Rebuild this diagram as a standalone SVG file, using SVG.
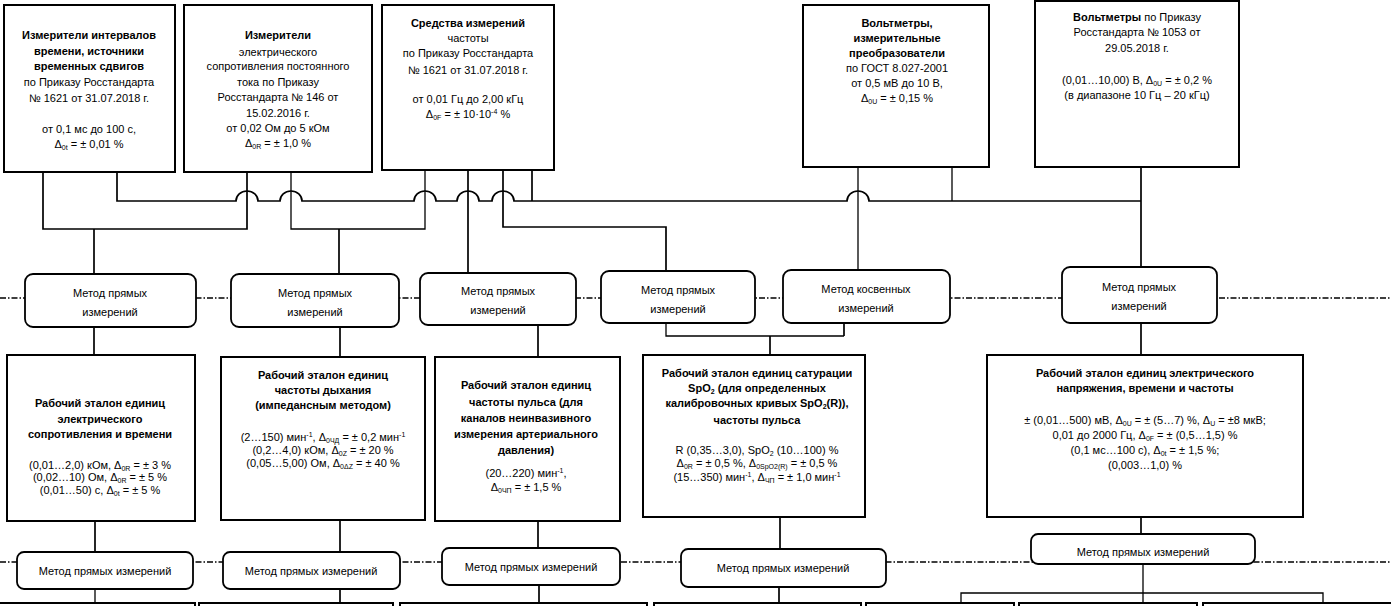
<svg xmlns="http://www.w3.org/2000/svg" width="1391" height="606" viewBox="0 0 1391 606">
<style>
  text { font-family: "Liberation Sans", Arial, sans-serif; font-size: 11px; fill: #000; text-anchor: middle; }
  .b { font-weight: bold; }
  .s { font-size: 7px; }
  .box { fill: #fff; stroke: #000; stroke-width: 2; }
  .m { fill: #fff; stroke: #000; stroke-width: 1.8; }
  .ln { fill: none; stroke: #000; stroke-width: 1.7; }
  .th { fill: none; stroke: #000; stroke-width: 1.3; }
  .dd { fill: none; stroke: #000; stroke-width: 1.3; stroke-dasharray: 6 2 1.5 2; }
</style>
<rect width="1391" height="606" fill="#fff"/>

<g id="guides">
  <line class="dd" x1="0" y1="298" x2="1391" y2="298"/>
  <line class="dd" x1="0" y1="562" x2="1391" y2="562"/>
</g>

<g id="connectors">
  <path class="ln" d="M43,172 V229 H247 V172"/>
  <line class="ln" x1="94" y1="229" x2="94" y2="274"/>
  <path class="th" d="M291,172 V229 H425 V170"/>
  <line class="ln" x1="339" y1="229" x2="339" y2="274"/>
  <line class="ln" x1="468" y1="170" x2="468" y2="273"/>
  <path class="ln" d="M503,170 V227 H666 V271"/>
  <line class="ln" x1="532" y1="170" x2="532" y2="201"/>
  <path class="ln" d="M117,172 V201 H236 A11,10 0 0 1 258,201 H280 A11,10 0 0 1 302,201 H414 A11,10 0 0 1 436,201 H457 A11,10 0 0 1 479,201 H492 A11,10 0 0 1 514,201 H847 A11,10 0 0 1 869,201 H1141"/>
  <line class="th" x1="858" y1="167" x2="858" y2="270"/>
  <line class="th" x1="952" y1="167" x2="952" y2="201"/>
  <line class="ln" x1="1141" y1="167" x2="1141" y2="267"/>

  <line class="ln" x1="94" y1="327" x2="94" y2="355"/>
  <line class="ln" x1="340" y1="327" x2="340" y2="357"/>
  <line class="ln" x1="538" y1="325" x2="538" y2="357"/>
  <path class="th" d="M666,323 V336 H844"/>
  <line class="ln" x1="844" y1="323" x2="844" y2="336"/>
  <line class="ln" x1="770" y1="336" x2="770" y2="355"/>
  <line class="ln" x1="1141" y1="323" x2="1141" y2="355"/>

  <line class="ln" x1="95" y1="521" x2="95" y2="552"/>
  <line class="ln" x1="340" y1="520" x2="340" y2="552"/>
  <line class="ln" x1="538" y1="521" x2="538" y2="548"/>
  <line class="ln" x1="780" y1="517" x2="780" y2="549"/>
  <line class="ln" x1="1141" y1="517" x2="1141" y2="534"/>

  <line class="th" x1="95" y1="589" x2="95" y2="603"/>
  <line class="ln" x1="340" y1="589" x2="340" y2="603"/>
  <line class="ln" x1="539" y1="585" x2="539" y2="603"/>
  <line class="ln" x1="779" y1="587" x2="779" y2="603"/>
  <line class="th" x1="1143" y1="564" x2="1143" y2="603"/>
  <path class="th" d="M961,603 V593 H1323 V603"/>
</g>

<g id="top1">
  <rect class="box" x="4" y="5" width="171" height="167"/>
  <text x="89" y="39" class="b">Измерители интервалов</text>
  <text x="89" y="55" class="b">времени, источники</text>
  <text x="89" y="70" class="b">временных сдвигов</text>
  <text x="89" y="86">по Приказу Росстандарта</text>
  <text x="89" y="102">№ 1621 от 31.07.2018 г.</text>
  <text x="89" y="133">от 0,1 мс до 100 с,</text>
  <text x="89" y="148">Δ<tspan class="s" dy="2">0t</tspan><tspan dy="-2"> = ± 0,01 %</tspan></text>
</g>

<g id="top2">
  <rect class="box" x="184" y="5" width="188" height="167"/>
  <text x="278" y="39" class="b">Измерители</text>
  <text x="278" y="56">электрического</text>
  <text x="278" y="70">сопротивления постоянного</text>
  <text x="278" y="86">тока по Приказу</text>
  <text x="278" y="101">Росстандарта № 146 от</text>
  <text x="278" y="117">15.02.2016 г.</text>
  <text x="278" y="132">от 0,02 Ом до 5 кОм</text>
  <text x="278" y="147">Δ<tspan class="s" dy="2">0R</tspan><tspan dy="-2"> = ± 1,0 %</tspan></text>
</g>

<g id="top3">
  <rect class="box" x="382" y="5" width="172" height="165"/>
  <text x="468" y="27" class="b">Средства измерений</text>
  <text x="468" y="42">частоты</text>
  <text x="468" y="57">по Приказу Росстандарта</text>
  <text x="468" y="74">№ 1621 от 31.07.2018 г.</text>
  <text x="468" y="103">от 0,01 Гц до 2,00 кГц</text>
  <text x="468" y="118">Δ<tspan class="s" dy="2">0F</tspan><tspan dy="-2"> = ± 10·10</tspan><tspan class="s" dy="-4">-4</tspan><tspan dy="4"> %</tspan></text>
</g>

<g id="top4">
  <rect class="box" x="803" y="5" width="186" height="162"/>
  <text x="897" y="27" class="b">Вольтметры,</text>
  <text x="897" y="42" class="b">измерительные</text>
  <text x="897" y="57" class="b">преобразователи</text>
  <text x="897" y="72">по ГОСТ 8.027-2001</text>
  <text x="897" y="87">от 0,5 мВ до 10 В,</text>
  <text x="897" y="102">Δ<tspan class="s" dy="2">0U</tspan><tspan dy="-2"> = ± 0,15 %</tspan></text>
</g>

<g id="top5">
  <rect class="box" x="1035" y="1" width="204" height="166"/>
  <text x="1137" y="21"><tspan class="b">Вольтметры</tspan> по Приказу</text>
  <text x="1137" y="36">Росстандарта  № 1053 от</text>
  <text x="1137" y="52">29.05.2018 г.</text>
  <text x="1137" y="84">(0,01…10,00) В, Δ<tspan class="s" dy="2">0U</tspan><tspan dy="-2">  = ± 0,2 %</tspan></text>
  <text x="1137" y="99">(в диапазоне 10 Гц – 20 кГц)</text>
</g>

<g id="method1">
  <rect class="m" x="25" y="274" width="171" height="53" rx="8"/>
  <text x="110" y="297">Метод прямых</text>
  <text x="110" y="316">измерений</text>
</g>
<g id="method2">
  <rect class="m" x="231" y="274" width="168" height="53" rx="8"/>
  <text x="315" y="297">Метод прямых</text>
  <text x="315" y="316">измерений</text>
</g>
<g id="method3">
  <rect class="m" x="420" y="273" width="156" height="52" rx="8"/>
  <text x="498" y="295">Метод прямых</text>
  <text x="498" y="314">измерений</text>
</g>
<g id="method4">
  <rect class="m" x="601" y="271" width="154" height="52" rx="8"/>
  <text x="678" y="294">Метод прямых</text>
  <text x="678" y="313">измерений</text>
</g>
<g id="method5">
  <rect class="m" x="783" y="270" width="167" height="53" rx="8"/>
  <text x="866" y="293">Метод косвенных</text>
  <text x="866" y="312">измерений</text>
</g>
<g id="method6">
  <rect class="m" x="1062" y="267" width="155" height="56" rx="8"/>
  <text x="1139" y="291">Метод прямых</text>
  <text x="1139" y="310">измерений</text>
</g>

<g id="std1">
  <rect class="box" x="7" y="355" width="188" height="166"/>
  <text x="100" y="407" class="b">Рабочий эталон единиц</text>
  <text x="100" y="423" class="b">электрического</text>
  <text x="100" y="438" class="b">сопротивления и времени</text>
  <text x="100" y="469">(0,01…2,0) кОм, Δ<tspan class="s" dy="2">0R</tspan><tspan dy="-2"> = ± 3 %</tspan></text>
  <text x="100" y="481">(0,02…10) Ом, Δ<tspan class="s" dy="2">0R</tspan><tspan dy="-2"> = ± 5 %</tspan></text>
  <text x="100" y="494">(0,01…50) с, Δ<tspan class="s" dy="2">0t</tspan><tspan dy="-2"> = ± 5 %</tspan></text>
</g>

<g id="std2">
  <rect class="box" x="221" y="357" width="204" height="163"/>
  <text x="323" y="379" class="b">Рабочий эталон единиц</text>
  <text x="323" y="394" class="b">частоты дыхания</text>
  <text x="323" y="409" class="b">(импедансным методом)</text>
  <text x="323" y="441">(2…150) мин<tspan class="s" dy="-4">-1</tspan><tspan dy="4">, Δ</tspan><tspan class="s" dy="2">0ЧД</tspan><tspan dy="-2"> = ± 0,2 мин</tspan><tspan class="s" dy="-4">-1</tspan></text>
  <text x="323" y="454">(0,2…4,0) кОм, Δ<tspan class="s" dy="2">0Z</tspan><tspan dy="-2"> = ± 20 %</tspan></text>
  <text x="323" y="467">(0,05…5,00) Ом, Δ<tspan class="s" dy="2">0ΔZ</tspan><tspan dy="-2"> = ± 40 %</tspan></text>
</g>

<g id="std3">
  <rect class="box" x="435" y="357" width="185" height="164"/>
  <text x="526" y="389" class="b">Рабочий эталон единиц</text>
  <text x="526" y="406" class="b">частоты пульса (для</text>
  <text x="526" y="422" class="b">каналов неинвазивного</text>
  <text x="526" y="438" class="b">измерения артериального</text>
  <text x="526" y="454" class="b">давления)</text>
  <text x="526" y="477">(20…220) мин<tspan class="s" dy="-4">-1</tspan><tspan dy="4">,</tspan></text>
  <text x="526" y="491">Δ<tspan class="s" dy="2">0ЧП</tspan><tspan dy="-2"> = ± 1,5 %</tspan></text>
</g>

<g id="std4">
  <rect class="box" x="643" y="355" width="222" height="162"/>
  <text x="757" y="377" class="b">Рабочий эталон единиц сатурации</text>
  <text x="757" y="392" class="b">SpO<tspan class="s" dy="2">2</tspan><tspan dy="-2"> (для определенных</tspan></text>
  <text x="757" y="407" class="b">калибровочных кривых SpO<tspan class="s" dy="2">2</tspan><tspan dy="-2">(R)),</tspan></text>
  <text x="757" y="424" class="b">частоты пульса</text>
  <text x="757" y="454">R (0,35…3,0), SpO<tspan class="s" dy="2">2</tspan><tspan dy="-2"> (10…100) %</tspan></text>
  <text x="757" y="467">Δ<tspan class="s" dy="2">0R</tspan><tspan dy="-2"> = ± 0,5 %, Δ</tspan><tspan class="s" dy="2">0SpO2(R)</tspan><tspan dy="-2"> = ± 0,5 %</tspan></text>
  <text x="757" y="481">(15…350) мин<tspan class="s" dy="-4">-1</tspan><tspan dy="4">, Δ</tspan><tspan class="s" dy="2">ЧП</tspan><tspan dy="-2"> = ± 1,0 мин</tspan><tspan class="s" dy="-4">-1</tspan></text>
</g>

<g id="std5">
  <rect class="box" x="987" y="355" width="316" height="162"/>
  <text x="1145" y="377" class="b">Рабочий эталон единиц электрического</text>
  <text x="1145" y="392" class="b">напряжения,  времени и частоты</text>
  <text x="1145" y="424">± (0,01…500) мВ, Δ<tspan class="s" dy="2">0U</tspan><tspan dy="-2">  = ± (5…7) %, Δ</tspan><tspan class="s" dy="2">U</tspan><tspan dy="-2">  = ±8 мкВ;</tspan></text>
  <text x="1145" y="439">0,01 до 2000 Гц, Δ<tspan class="s" dy="2">0F</tspan><tspan dy="-2"> = ± (0,5…1,5) %</tspan></text>
  <text x="1145" y="454">(0,1 мс…100 с), Δ<tspan class="s" dy="2">0t</tspan><tspan dy="-2"> = ± 1,5 %;</tspan></text>
  <text x="1145" y="469">(0,003…1,0) %</text>
</g>

<g id="bmethod1">
  <rect class="m" x="17" y="552" width="176" height="37" rx="7"/>
  <text x="105" y="575">Метод прямых измерений</text>
</g>
<g id="bmethod2">
  <rect class="m" x="223" y="552" width="177" height="37" rx="7"/>
  <text x="311" y="575">Метод прямых измерений</text>
</g>
<g id="bmethod3">
  <rect class="m" x="442" y="548" width="178" height="37" rx="7"/>
  <text x="531" y="571">Метод прямых измерений</text>
</g>
<g id="bmethod4">
  <rect class="m" x="681" y="549" width="205" height="38" rx="7"/>
  <text x="783" y="572">Метод прямых измерений</text>
</g>
<g id="bmethod5">
  <rect class="m" x="1031" y="534" width="224" height="30" rx="7"/>
  <text x="1143" y="556">Метод прямых измерений</text>
</g>

<g id="nextrow">
  <rect class="box" x="-5" y="603" width="200" height="20"/>
  <rect class="box" x="199" y="603" width="194" height="20"/>
  <rect class="box" x="400" y="603" width="247" height="20"/>
  <rect class="box" x="654" y="603" width="207" height="20"/>
  <rect class="box" x="866" y="603" width="148" height="20"/>
  <rect class="box" x="1019" y="603" width="178" height="20"/>
  <rect class="box" x="1203" y="603" width="200" height="20"/>
</g>
</svg>
